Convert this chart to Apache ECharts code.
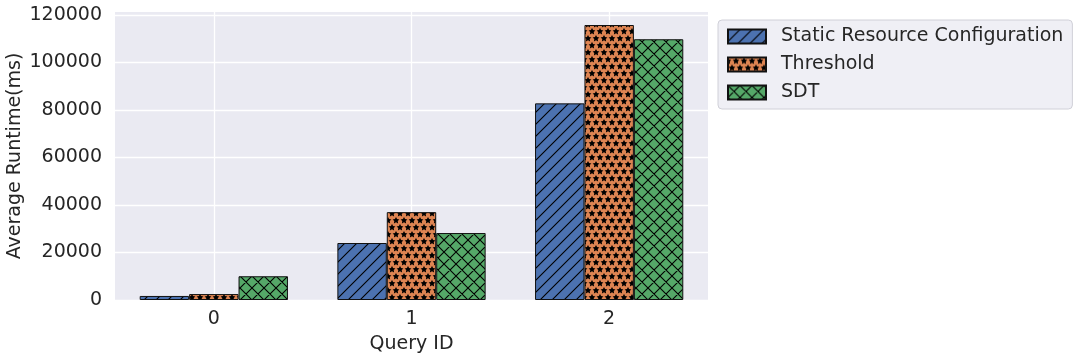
<!DOCTYPE html>
<html><head><meta charset="utf-8">
<script src="https://cdn.jsdelivr.net/npm/echarts@6/dist/echarts.min.js"></script>
<style>html,body{margin:0;padding:0;background:#fff}#c{width:1080px;height:359px}</style>
</head><body><div id="c"></div>
<script>
const categories = ['0', '1', '2'];
const seriesNames = ['Static Resource Configuration', 'Threshold', 'SDT'];
const staticValues = [1700, 24000, 82800];
const thresholdValues = [2500, 37000, 115800];
const sdtValues = [10000, 28200, 109800];
const yTicks = [0, 20000, 40000, 60000, 80000, 100000, 120000];

function mkCanvas(w, h, bg) {
  const c = document.createElement('canvas');
  c.width = w; c.height = h;
  const g = c.getContext('2d');
  g.fillStyle = bg; g.fillRect(0, 0, w, h);
  return [c, g];
}
function diagPattern(bg, cross) {
  const s = 12;
  const [c, g] = mkCanvas(s, s, bg);
  g.strokeStyle = '#000'; g.lineWidth = 1.1;
  const lines = [[0, s, s, 0], [-s, s, s, -s], [0, 2 * s, 2 * s, 0]];
  g.beginPath();
  lines.forEach(l => { g.moveTo(l[0], l[1]); g.lineTo(l[2], l[3]); });
  if (cross) {
    [[0, 0, s, s], [-s, 0, s, 2 * s], [0, -s, 2 * s, s]].forEach(l => { g.moveTo(l[0], l[1]); g.lineTo(l[2], l[3]); });
  }
  g.stroke();
  return c;
}
function star(g, cx, cy, r) {
  g.beginPath();
  for (let i = 0; i < 10; i++) {
    const rr = i % 2 === 0 ? r : r * 0.5;
    const a = -Math.PI / 2 + i * Math.PI / 5;
    const x = cx + rr * Math.cos(a), y = cy + rr * Math.sin(a);
    if (i === 0) g.moveTo(x, y); else g.lineTo(x, y);
  }
  g.closePath(); g.fill();
}
function starPattern(bg) {
  const w = 8, h = 14;
  const [c, g] = mkCanvas(w, h, bg);
  g.fillStyle = '#000';
  const r = 3.6;
  [[0, 3.5], [8, 3.5], [4, 10.5], [0, -3.5], [8, -3.5], [4, -3.5], [4, 17.5], [0, 17.5], [8, 17.5]].forEach(p => star(g, p[0], p[1], r));
  return c;
}

const fills = [
  { image: diagPattern('#4C72B0', false), repeat: 'repeat' },
  { image: starPattern('#DD8452'), repeat: 'repeat' },
  { image: diagPattern('#55A868', true), repeat: 'repeat' }
];
const dataSets = [staticValues, thresholdValues, sdtValues];
const textColor = '#262626';
const font = 'DejaVu Sans';
const fs = 19;

const chart = echarts.init(document.getElementById('c'), null, { renderer: 'canvas' });
chart.setOption({
  animation: false,
  textStyle: { fontFamily: font },
  grid: { left: 115, right: 372, top: 12, bottom: 59, show: true, backgroundColor: '#EAEAF2', borderWidth: 0,
          containLabel: false, outerBoundsMode: 'none' },
  legend: {
    orient: 'vertical', left: 718, top: 20, icon: 'rect',
    padding: [7, 9, 7, 9], itemGap: 9, itemWidth: 38, itemHeight: 14,
    backgroundColor: '#EFEFF5', borderColor: '#d0d0d8', borderWidth: 1, borderRadius: 4,
    textStyle: { fontSize: fs, color: textColor, fontFamily: font, padding: [0, 0, 0, 10] },
    data: seriesNames
  },
  xAxis: [{
    type: 'category', data: categories,
    axisLine: { show: false }, axisTick: { show: false }, splitLine: { show: false },
    axisLabel: { fontSize: fs, color: textColor, margin: 10, fontFamily: font },
    name: 'Query ID', nameLocation: 'middle', nameGap: 35, nameMoveOverlap: false,
    nameTextStyle: { fontSize: fs, color: textColor, fontFamily: font }
  }, {
    type: 'category', data: ['', '0', '', '1', '', '2', ''], boundaryGap: false,
    position: 'bottom', show: true,
    axisLine: { show: false }, axisTick: { show: false }, axisLabel: { show: false },
    splitLine: { show: true, interval: (i) => i % 2 === 1, lineStyle: { color: '#ffffff', width: 1.3 } }
  }],
  yAxis: {
    type: 'value', min: 0, max: 121275, interval: 20000,
    axisLine: { show: false }, axisTick: { show: false },
    splitLine: { show: true, showMaxLine: false, lineStyle: { color: '#ffffff', width: 1.3 } },
    axisLabel: {
      fontSize: fs, color: textColor, margin: 13, fontFamily: font, showMaxLabel: false,
      formatter: v => (yTicks.indexOf(v) >= 0 ? String(v) : '')
    },
    name: 'Average Runtime(ms)', nameLocation: 'middle', nameGap: 90, nameMoveOverlap: false,
    nameTextStyle: { fontSize: fs, color: textColor, fontFamily: font }
  },
  series: seriesNames.map((n, i) => ({
    name: n, type: 'bar', xAxisIndex: 0, data: dataSets[i],
    barWidth: '25%', barGap: '0%',
    itemStyle: { color: fills[i], borderColor: '#111', borderWidth: 1 },
    emphasis: { disabled: true }
  }))
});
</script></body></html>
